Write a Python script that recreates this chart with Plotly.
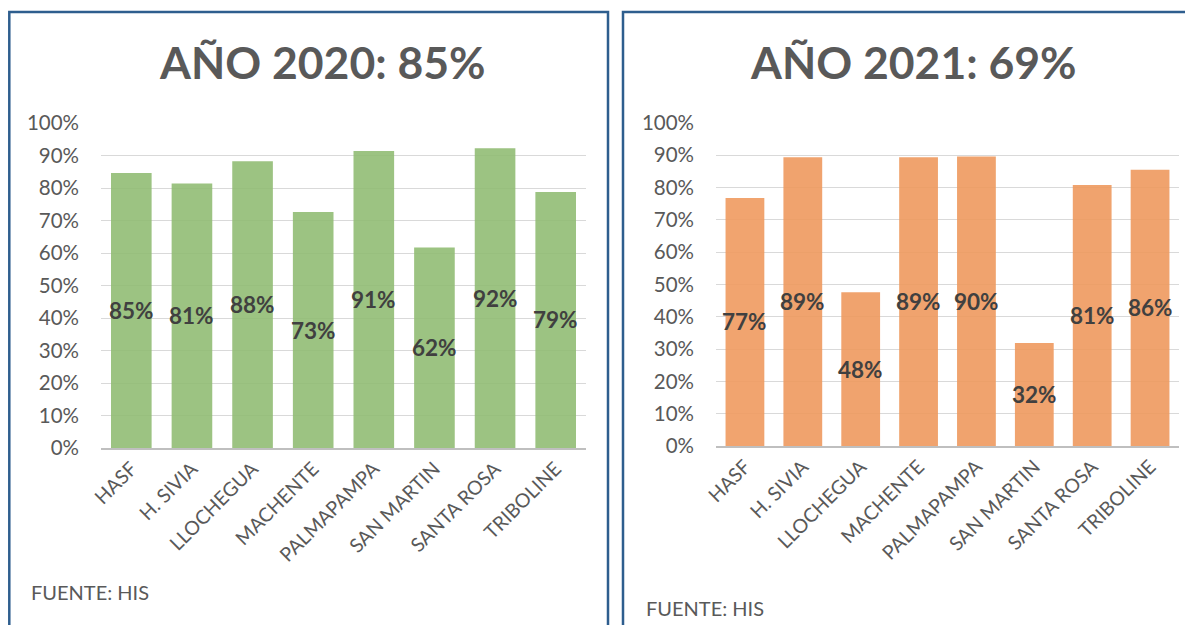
import plotly.graph_objects as go

categories = ["HASF", "H. SIVIA", "LLOCHEGUA", "MACHENTE", "PALMAPAMPA",
              "SAN MARTIN", "SANTA ROSA", "TRIBOLINE"]
values_2020 = [0.846, 0.814, 0.882, 0.726, 0.914, 0.617, 0.922, 0.788]
values_2021 = [0.768, 0.894, 0.476, 0.894, 0.896, 0.319, 0.808, 0.855]
title_2020 = "AÑO 2020: 85%"
title_2021 = "AÑO 2021: 69%"
source_text = "FUENTE: HIS"
y_ticks = [i / 10 for i in range(11)]

# figure sits at (8, 8) in the page (body margin)
FW, FH = 1177, 617
OFF = 8
FONT = "Lato"
GREEN = "#92BD75"
ORANGE = "#EF9A5F"
GRAY_TXT = "#595959"
LBL_TXT = "#404040"
BORDER = "#2E5E8E"

fig = go.Figure()
fig.add_trace(go.Bar(x=categories, y=values_2020, marker=dict(color=GREEN, line=dict(width=0)),
                     opacity=0.9, xaxis="x", yaxis="y", hoverinfo="skip"))
fig.add_trace(go.Bar(x=categories, y=values_2021, marker=dict(color=ORANGE, line=dict(width=0)),
                     opacity=0.9, xaxis="x2", yaxis="y2", hoverinfo="skip"))


def px_x(p):
    return (p - OFF) / FW


def px_y(p):
    return 1 - (p - OFF) / FH


annotations = []
for xa, ya, vals in (("x", "y", values_2020), ("x2", "y2", values_2021)):
    for c, v in zip(categories, vals):
        annotations.append(dict(x=c, y=v / 2, xref=xa, yref=ya, text=f"{round(v * 100)}%",
                                showarrow=False, xanchor="center", yanchor="middle",
                                font=dict(family=FONT, size=22.5, color=LBL_TXT, weight="bold")))

annotations += [
    dict(x=px_x(322), y=px_y(62), xref="paper", yref="paper", text=title_2020, showarrow=False,
         xanchor="center", yanchor="middle",
         font=dict(family=FONT, size=44.5, color=GRAY_TXT, weight="bold")),
    dict(x=px_x(913), y=px_y(62), xref="paper", yref="paper", text=title_2021, showarrow=False,
         xanchor="center", yanchor="middle",
         font=dict(family=FONT, size=44.5, color=GRAY_TXT, weight="bold")),
    dict(x=px_x(29), y=px_y(592), xref="paper", yref="paper", text=source_text, showarrow=False,
         xanchor="left", yanchor="middle", font=dict(family=FONT, size=20, color=GRAY_TXT)),
    dict(x=px_x(644), y=px_y(608), xref="paper", yref="paper", text=source_text, showarrow=False,
         xanchor="left", yanchor="middle", font=dict(family=FONT, size=20, color=GRAY_TXT)),
]

shapes = [
    dict(type="rect", xref="paper", yref="paper", x0=px_x(9.3), x1=px_x(608), y0=-0.05, y1=px_y(12),
         line=dict(color=BORDER, width=2.5), fillcolor="rgba(0,0,0,0)"),
    dict(type="rect", xref="paper", yref="paper", x0=px_x(623), x1=1.05, y0=-0.05, y1=px_y(12),
         line=dict(color=BORDER, width=2.5), fillcolor="rgba(0,0,0,0)"),
]

yaxis_common = dict(range=[0, 1], tickvals=y_ticks, tickformat=".0%", showgrid=True,
                    gridcolor="#D9D9D9", gridwidth=1, zeroline=False, showline=False,
                    ticks="", ticklabelstandoff=21, automargin=False,
                    tickfont=dict(family=FONT, size=20.5, color=GRAY_TXT), fixedrange=True)
xaxis_common = dict(showgrid=False, showline=True, linecolor="#BFBFBF", linewidth=1.5,
                    ticks="", tickangle=-45, automargin=False,
                    tickfont=dict(family=FONT, size=19.5, color=GRAY_TXT),
                    fixedrange=True, zeroline=False)

fig.update_layout(
    template="none",
    width=FW, height=FH,
    margin=dict(l=0, r=0, t=0, b=0, pad=0),
    paper_bgcolor="white", plot_bgcolor="white",
    showlegend=False,
    bargap=0.33,
    xaxis=dict(domain=[px_x(101), px_x(586)], anchor="y", **xaxis_common),
    yaxis=dict(domain=[px_y(448), px_y(123)], anchor="x", **yaxis_common),
    xaxis2=dict(domain=[px_x(716), px_x(1179)], anchor="y2", **xaxis_common),
    yaxis2=dict(domain=[px_y(446), px_y(123)], anchor="x2", **yaxis_common),
    annotations=annotations,
    shapes=shapes,
)

fig.write_html("out.html")
